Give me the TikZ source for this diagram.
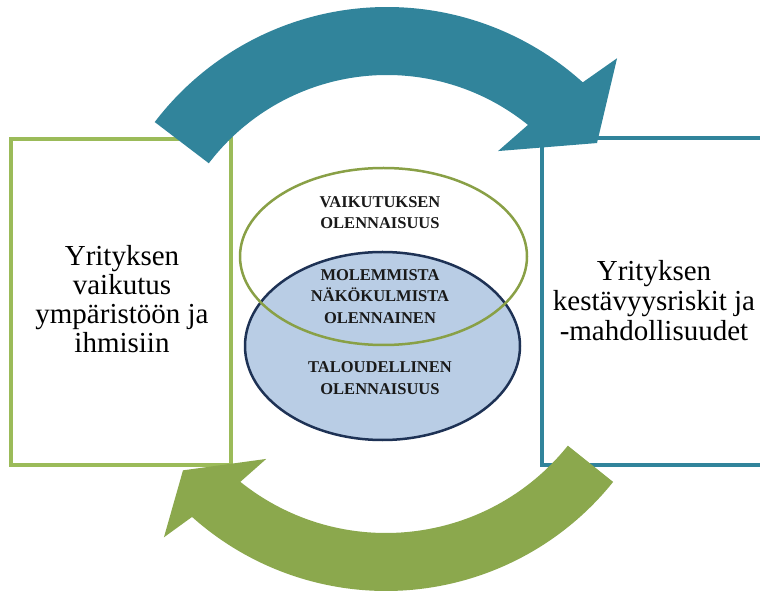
\documentclass[tikz,border=0pt]{standalone}
\usepackage{fontspec}
\setmainfont{Liberation Serif}
\usetikzlibrary{calc}
\definecolor{arrowblue}{RGB}{49,132,155}
\definecolor{arrowgreen}{RGB}{139,168,77}
\definecolor{boxgreen}{RGB}{155,187,89}
\definecolor{ellgreen}{RGB}{137,160,70}
\definecolor{ellnavy}{RGB}{30,50,85}
\definecolor{ellfill}{RGB}{185,205,229}
\tikzset{
  elltext/.style={font=\bfseries\fontsize{16.5}{21.5}\selectfont, align=center, inner sep=0pt, text=black!90},
  boxtextl/.style={font=\fontsize{29}{29}\selectfont, align=center, inner sep=0pt, text=black},
  boxtextr/.style={font=\fontsize{29}{30}\selectfont, align=center, inner sep=0pt, text=black},
  framebox/.style={line width=4pt},
  ellborder/.style={line width=2.5pt}
}
\begin{document}
\begin{tikzpicture}[x=1pt,y=1pt]
\useasboundingbox (0,0) rectangle (760,592);
\clip (0,0) rectangle (760,592);
\fill[white] (0,0) rectangle (760,592);
% boxes
\draw[framebox, boxgreen] (11,127) rectangle (231,453);
\draw[framebox, arrowblue] (542,127) rectangle (800,454);
% ellipses
\draw[ellborder, ellnavy, fill=ellfill] (382.5,246) ellipse [x radius=137.5, y radius=94];
\draw[ellborder, ellgreen] (383.5,335.5) ellipse [x radius=143.5, y radius=88.5];
% texts
\node[elltext] (vo) at (380,379.6) {VAIKUTUKSEN\\OLENNAISUUS};
\node[elltext] (mo) at (380,295.5) {MOLEMMISTA\\NÄKÖKULMISTA\\OLENNAINEN};
\node[elltext] (to) at (380,214) {TALOUDELLINEN\\OLENNAISUUS};
\node[boxtextl] (lt) at (122,293) {Yrityksen\\vaikutus\\ympäristöön ja\\ihmisiin};
\node[boxtextr] (rt) at (654,291) {Yrityksen\\kestävyysriskit ja\\-mahdollisuudet};
% arrows
\coordinate (cb) at (387,293);
\coordinate (cg) at (386,292);
\fill[arrowblue] ($(cb)+(142.7:292)$) arc[start angle=142.7, end angle=47.9, radius=292]
  -- ($(cb)+(46.3:333)$) -- ($(cb)+(36.6:261.6)$) -- ($(cb)+(53.1:185)$)
  -- ($(cb)+(51:224)$) arc[start angle=51, end angle=142.7, radius=224] -- cycle;
\fill[arrowgreen] ($(cg)+(-38.7:291)$) arc[start angle=-38.7, end angle=-131.8, radius=291]
  -- ($(cg)+(-133.1:325)$) -- ($(cg)+(-140:265)$) -- ($(cg)+(-127:199)$)
  -- ($(cg)+(-128.7:233)$) arc[start angle=-128.7, end angle=-38.7, radius=233] -- cycle;
\end{tikzpicture}
\end{document}
